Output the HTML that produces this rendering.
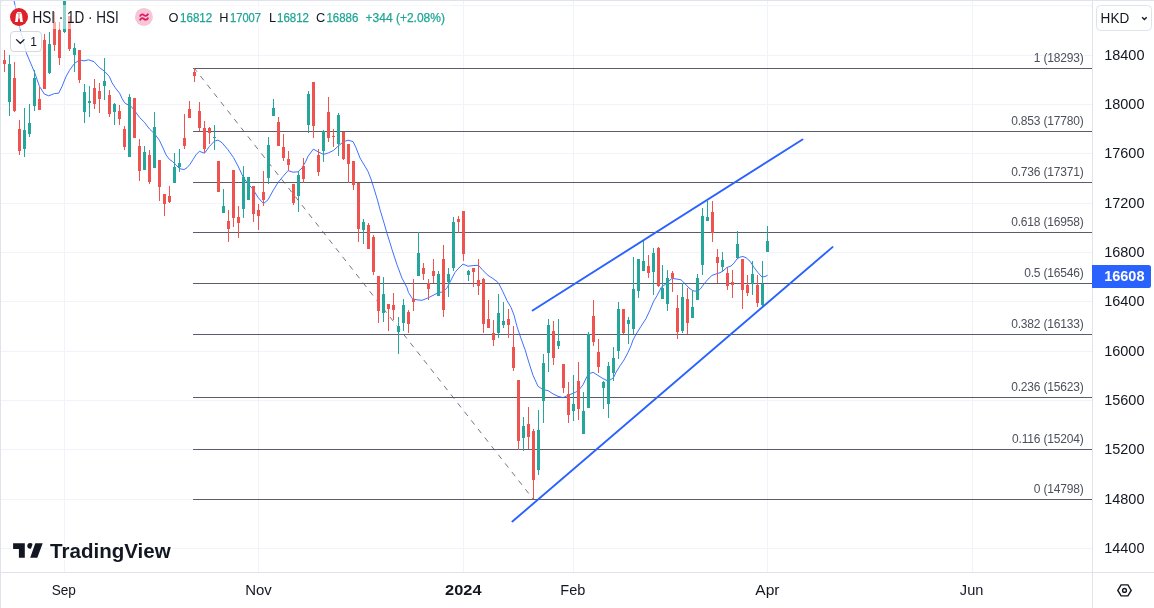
<!DOCTYPE html>
<html lang="en"><head><meta charset="utf-8"><title>HSI chart</title>
<style>html,body{margin:0;padding:0;background:#fff;}body{width:1154px;height:608px;overflow:hidden;font-family:"Liberation Sans",Arial,sans-serif}svg{display:block;will-change:transform}</style>
</head><body>
<svg width="1154" height="608" viewBox="0 0 1154 608" font-family="Liberation Sans, Arial, sans-serif">
<rect width="1154" height="608" fill="#fff"/>
<g fill="#f0f3fa" shape-rendering="crispEdges">
<rect x="1" y="5" width="1091" height="1"/>
<rect x="1" y="55" width="1091" height="1"/>
<rect x="1" y="104" width="1091" height="1"/>
<rect x="1" y="153" width="1091" height="1"/>
<rect x="1" y="203" width="1091" height="1"/>
<rect x="1" y="252" width="1091" height="1"/>
<rect x="1" y="301" width="1091" height="1"/>
<rect x="1" y="351" width="1091" height="1"/>
<rect x="1" y="400" width="1091" height="1"/>
<rect x="1" y="449" width="1091" height="1"/>
<rect x="1" y="499" width="1091" height="1"/>
<rect x="1" y="548" width="1091" height="1"/>
<rect x="64" y="1" width="1" height="571"/>
<rect x="258" y="1" width="1" height="571"/>
<rect x="463" y="1" width="1" height="571"/>
<rect x="573" y="1" width="1" height="571"/>
<rect x="767" y="1" width="1" height="571"/>
<rect x="972" y="1" width="1" height="571"/>
</g>
<g fill="#5a5d69" shape-rendering="crispEdges">
<rect x="193" y="68" width="899" height="1"/>
<rect x="193" y="131" width="899" height="1"/>
<rect x="193" y="182" width="899" height="1"/>
<rect x="193" y="232" width="899" height="1"/>
<rect x="193" y="283" width="899" height="1"/>
<rect x="193" y="334" width="899" height="1"/>
<rect x="193" y="397" width="899" height="1"/>
<rect x="193" y="449" width="899" height="1"/>
<rect x="193" y="499" width="899" height="1"/>
</g>
<line x1="194.5" y1="68.5" x2="533.5" y2="499.5" stroke="#5a5d69" stroke-width="1" stroke-opacity="0.85" stroke-dasharray="5.4 5.55" stroke-dashoffset="1.35"/>
<g fill="#4d505c" font-size="12" letter-spacing="-0.18" text-anchor="end">
<text x="1083.6" y="61.6">1 (18293)</text>
<text x="1083.6" y="124.6">0.853 (17780)</text>
<text x="1083.6" y="175.6">0.736 (17371)</text>
<text x="1083.6" y="225.6">0.618 (16958)</text>
<text x="1083.6" y="276.6">0.5 (16546)</text>
<text x="1083.6" y="327.6">0.382 (16133)</text>
<text x="1083.6" y="390.6">0.236 (15623)</text>
<text x="1083.6" y="442.6">0.116 (15204)</text>
<text x="1083.6" y="492.6">0 (14798)</text>
</g>
<polyline points="13.8,0 15.7,7.8 19.6,27 26.2,52.3 27.2,55 34.5,72.2 39.5,86.5 44.4,94.1 48.7,95.8 54.4,93.6 58.7,93.2 62,86.5 65.8,77 69.5,70.3 74.4,63.6 79.5,59.8 84,60.9 88.7,59.8 94,61.7 99.2,67.4 104.5,71.2 109.3,76.5 112,82.7 115,87.4 119.6,93.2 122,98.4 124.5,102.7 127,104.4 129.6,104.9 132,107.5 134.5,110.5 139.5,117.4 144.4,122.2 149.4,128.9 154.4,133.6 159.4,140.3 163,148 166,154.8 169.5,159.5 172.5,161.5 176,164.8 179.5,168.6 184,169.6 187,167.7 190,164.3 193,159.5 196,154.8 199.4,151.3 204.5,153.2 209.4,146.5 214.3,141.2 218,140.1 222,142.7 228,149.8 233.4,157.4 238,166 243.4,177.5 247,182.6 253,189.3 258,197.4 263.5,203.6 268,199.8 273,190.7 278,182.5 283,176.5 288,170.6 293,172.2 298,171.8 302,168 306,161 308,156.3 313.4,149.1 318.4,152 323.5,154.4 328.4,152.9 333.4,150.5 338.5,145.8 343.4,141.8 348,140.2 353,141.5 356,147.7 360,158 365,166.3 368,171.5 371,179.1 374,188.6 377.5,200.1 380,209.6 384,222.9 387,233.4 390,242.9 392,249.5 397,264.8 402,278.2 407,287.7 408.5,292.6 412.5,298.8 417,299.8 422,300.3 428,297.9 433,295.4 438,292.8 443,291.8 447,287.8 451,280.1 455,272.4 458,268.8 463,264.1 468,266.2 473,265.6 478.5,265.3 483,270.5 488,275.3 493,278.6 497,281.5 499,283.9 503,292 507,300.6 511,307.4 514,315 517,326.5 521,338.5 525,349.5 529,362.9 533,375.3 538,386.3 543,389.6 548,390.6 553,393.9 558,396.3 563,397.7 568,395.3 573,393.4 578,391 583,384.8 587,376.3 590,373.4 593,372.3 597,374.8 603,378.6 607,380.6 610,380.1 613.5,377.7 616,372.4 620,365.8 624,360 628,352.4 631,345.7 633,340 636,334.4 641,326.3 646,318.6 650,310 653.5,301.5 657,295.7 660,290 661,287.5 665,284.6 668,281.8 672,278.4 677,279.1 681,279.8 685,283.7 689,288 693,290.8 697,291.3 700,289.4 704,284 708,279.2 712,275.4 716,274 720,272.7 723,271 727,267.4 731,266 734,263.1 737,258.9 740,257.1 743,256.5 746,257.7 750,261.2 754,267.4 758,272.7 762,277 765,276.5 767.6,275.3" fill="none" stroke="#2962ff" stroke-width="1" stroke-opacity="0.9" stroke-linejoin="round"/>
<g shape-rendering="crispEdges">
<rect x="4" y="50" width="1" height="22" fill="#ef5350"/>
<rect x="3" y="60" width="3" height="4" fill="#ef5350"/>
<rect x="9" y="55" width="1" height="61" fill="#26a69a"/>
<rect x="8" y="64" width="3" height="38" fill="#26a69a"/>
<rect x="14" y="62" width="1" height="50" fill="#ef5350"/>
<rect x="13" y="78" width="3" height="33" fill="#ef5350"/>
<rect x="19" y="120" width="1" height="35" fill="#ef5350"/>
<rect x="18" y="129" width="3" height="22" fill="#ef5350"/>
<rect x="24" y="108" width="1" height="49" fill="#26a69a"/>
<rect x="23" y="130" width="3" height="19" fill="#26a69a"/>
<rect x="29" y="104" width="1" height="33" fill="#26a69a"/>
<rect x="28" y="123" width="3" height="11" fill="#26a69a"/>
<rect x="34" y="70" width="1" height="41" fill="#26a69a"/>
<rect x="33" y="78" width="3" height="28" fill="#26a69a"/>
<rect x="39" y="87" width="1" height="23" fill="#ef5350"/>
<rect x="38" y="99" width="3" height="11" fill="#ef5350"/>
<rect x="44" y="34" width="1" height="55" fill="#ef5350"/>
<rect x="43" y="40" width="3" height="49" fill="#ef5350"/>
<rect x="49" y="32" width="1" height="42" fill="#26a69a"/>
<rect x="48" y="44" width="3" height="29" fill="#26a69a"/>
<rect x="54" y="12" width="1" height="39" fill="#ef5350"/>
<rect x="53" y="22" width="3" height="23" fill="#ef5350"/>
<rect x="59" y="22" width="1" height="43" fill="#ef5350"/>
<rect x="58" y="30" width="3" height="28" fill="#ef5350"/>
<rect x="64" y="-5" width="1" height="38" fill="#26a69a"/>
<rect x="63" y="-5" width="3" height="37" fill="#26a69a"/>
<rect x="69" y="16" width="1" height="35" fill="#ef5350"/>
<rect x="68" y="16" width="3" height="33" fill="#ef5350"/>
<rect x="74" y="43" width="1" height="29" fill="#26a69a"/>
<rect x="73" y="48" width="3" height="7" fill="#26a69a"/>
<rect x="79" y="50" width="1" height="33" fill="#ef5350"/>
<rect x="78" y="50" width="3" height="30" fill="#ef5350"/>
<rect x="84" y="84" width="1" height="39" fill="#26a69a"/>
<rect x="83" y="92" width="3" height="20" fill="#26a69a"/>
<rect x="89" y="86" width="1" height="31" fill="#26a69a"/>
<rect x="88" y="101" width="3" height="2" fill="#26a69a"/>
<rect x="94" y="79" width="1" height="30" fill="#ef5350"/>
<rect x="93" y="88" width="3" height="16" fill="#ef5350"/>
<rect x="99" y="83" width="1" height="30" fill="#ef5350"/>
<rect x="98" y="91" width="3" height="8" fill="#ef5350"/>
<rect x="104" y="58" width="1" height="42" fill="#26a69a"/>
<rect x="103" y="81" width="3" height="5" fill="#26a69a"/>
<rect x="109" y="90" width="1" height="27" fill="#ef5350"/>
<rect x="108" y="95" width="3" height="19" fill="#ef5350"/>
<rect x="114" y="103" width="1" height="22" fill="#26a69a"/>
<rect x="113" y="104" width="3" height="8" fill="#26a69a"/>
<rect x="119" y="105" width="1" height="20" fill="#ef5350"/>
<rect x="118" y="111" width="3" height="8" fill="#ef5350"/>
<rect x="124" y="126" width="1" height="24" fill="#ef5350"/>
<rect x="123" y="129" width="3" height="18" fill="#ef5350"/>
<rect x="129" y="94" width="1" height="63" fill="#26a69a"/>
<rect x="128" y="97" width="3" height="60" fill="#26a69a"/>
<rect x="134" y="98" width="1" height="40" fill="#ef5350"/>
<rect x="133" y="98" width="3" height="40" fill="#ef5350"/>
<rect x="139" y="139" width="1" height="42" fill="#ef5350"/>
<rect x="138" y="146" width="3" height="25" fill="#ef5350"/>
<rect x="144" y="146" width="1" height="24" fill="#26a69a"/>
<rect x="143" y="152" width="3" height="18" fill="#26a69a"/>
<rect x="149" y="150" width="1" height="34" fill="#ef5350"/>
<rect x="148" y="155" width="3" height="27" fill="#ef5350"/>
<rect x="154" y="112" width="1" height="56" fill="#26a69a"/>
<rect x="153" y="127" width="3" height="41" fill="#26a69a"/>
<rect x="159" y="160" width="1" height="41" fill="#ef5350"/>
<rect x="158" y="160" width="3" height="27" fill="#ef5350"/>
<rect x="164" y="194" width="1" height="22" fill="#ef5350"/>
<rect x="163" y="194" width="3" height="10" fill="#ef5350"/>
<rect x="169" y="186" width="1" height="17" fill="#ef5350"/>
<rect x="168" y="196" width="3" height="6" fill="#ef5350"/>
<rect x="174" y="153" width="1" height="30" fill="#26a69a"/>
<rect x="173" y="167" width="3" height="16" fill="#26a69a"/>
<rect x="179" y="149" width="1" height="23" fill="#26a69a"/>
<rect x="178" y="163" width="3" height="4" fill="#26a69a"/>
<rect x="184" y="114" width="1" height="35" fill="#ef5350"/>
<rect x="183" y="138" width="3" height="8" fill="#ef5350"/>
<rect x="189" y="101" width="1" height="17" fill="#ef5350"/>
<rect x="188" y="109" width="3" height="9" fill="#ef5350"/>
<rect x="194" y="68" width="1" height="14" fill="#ef5350"/>
<rect x="193" y="72" width="3" height="4" fill="#ef5350"/>
<rect x="199" y="102" width="1" height="29" fill="#ef5350"/>
<rect x="198" y="111" width="3" height="17" fill="#ef5350"/>
<rect x="204" y="121" width="1" height="32" fill="#ef5350"/>
<rect x="203" y="128" width="3" height="21" fill="#ef5350"/>
<rect x="209" y="127" width="1" height="17" fill="#ef5350"/>
<rect x="208" y="128" width="3" height="5" fill="#ef5350"/>
<rect x="214" y="125" width="1" height="25" fill="#26a69a"/>
<rect x="213" y="137" width="3" height="1" fill="#26a69a"/>
<rect x="218" y="161" width="1" height="31" fill="#ef5350"/>
<rect x="217" y="161" width="3" height="31" fill="#ef5350"/>
<rect x="223" y="189" width="1" height="24" fill="#26a69a"/>
<rect x="222" y="206" width="3" height="7" fill="#26a69a"/>
<rect x="228" y="210" width="1" height="32" fill="#ef5350"/>
<rect x="227" y="221" width="3" height="8" fill="#ef5350"/>
<rect x="233" y="170" width="1" height="57" fill="#ef5350"/>
<rect x="232" y="170" width="3" height="48" fill="#ef5350"/>
<rect x="238" y="206" width="1" height="32" fill="#ef5350"/>
<rect x="237" y="217" width="3" height="6" fill="#ef5350"/>
<rect x="243" y="166" width="1" height="52" fill="#26a69a"/>
<rect x="242" y="177" width="3" height="32" fill="#26a69a"/>
<rect x="248" y="177" width="1" height="23" fill="#26a69a"/>
<rect x="247" y="177" width="3" height="23" fill="#26a69a"/>
<rect x="253" y="186" width="1" height="36" fill="#ef5350"/>
<rect x="252" y="186" width="3" height="28" fill="#ef5350"/>
<rect x="258" y="204" width="1" height="26" fill="#ef5350"/>
<rect x="257" y="210" width="3" height="6" fill="#ef5350"/>
<rect x="263" y="171" width="1" height="35" fill="#ef5350"/>
<rect x="262" y="192" width="3" height="8" fill="#ef5350"/>
<rect x="268" y="137" width="1" height="47" fill="#26a69a"/>
<rect x="267" y="145" width="3" height="33" fill="#26a69a"/>
<rect x="273" y="99" width="1" height="17" fill="#26a69a"/>
<rect x="272" y="108" width="3" height="8" fill="#26a69a"/>
<rect x="278" y="117" width="1" height="29" fill="#ef5350"/>
<rect x="277" y="122" width="3" height="24" fill="#ef5350"/>
<rect x="283" y="134" width="1" height="27" fill="#ef5350"/>
<rect x="282" y="147" width="3" height="11" fill="#ef5350"/>
<rect x="288" y="151" width="1" height="20" fill="#ef5350"/>
<rect x="287" y="159" width="3" height="6" fill="#ef5350"/>
<rect x="293" y="184" width="1" height="21" fill="#ef5350"/>
<rect x="292" y="184" width="3" height="19" fill="#ef5350"/>
<rect x="298" y="171" width="1" height="41" fill="#26a69a"/>
<rect x="297" y="175" width="3" height="21" fill="#26a69a"/>
<rect x="303" y="158" width="1" height="25" fill="#ef5350"/>
<rect x="302" y="166" width="3" height="13" fill="#ef5350"/>
<rect x="308" y="91" width="1" height="42" fill="#26a69a"/>
<rect x="307" y="94" width="3" height="31" fill="#26a69a"/>
<rect x="313" y="82" width="1" height="56" fill="#ef5350"/>
<rect x="312" y="82" width="3" height="44" fill="#ef5350"/>
<rect x="318" y="149" width="1" height="27" fill="#ef5350"/>
<rect x="317" y="155" width="3" height="17" fill="#ef5350"/>
<rect x="323" y="130" width="1" height="32" fill="#26a69a"/>
<rect x="322" y="131" width="3" height="20" fill="#26a69a"/>
<rect x="328" y="97" width="1" height="45" fill="#ef5350"/>
<rect x="327" y="112" width="3" height="26" fill="#ef5350"/>
<rect x="333" y="129" width="1" height="18" fill="#ef5350"/>
<rect x="332" y="136" width="3" height="1" fill="#ef5350"/>
<rect x="338" y="113" width="1" height="43" fill="#26a69a"/>
<rect x="337" y="115" width="3" height="29" fill="#26a69a"/>
<rect x="343" y="132" width="1" height="28" fill="#ef5350"/>
<rect x="342" y="132" width="3" height="27" fill="#ef5350"/>
<rect x="348" y="144" width="1" height="39" fill="#ef5350"/>
<rect x="347" y="144" width="3" height="20" fill="#ef5350"/>
<rect x="353" y="161" width="1" height="29" fill="#ef5350"/>
<rect x="352" y="161" width="3" height="24" fill="#ef5350"/>
<rect x="358" y="183" width="1" height="59" fill="#ef5350"/>
<rect x="357" y="183" width="3" height="46" fill="#ef5350"/>
<rect x="363" y="219" width="1" height="25" fill="#26a69a"/>
<rect x="362" y="222" width="3" height="8" fill="#26a69a"/>
<rect x="368" y="223" width="1" height="26" fill="#ef5350"/>
<rect x="367" y="225" width="3" height="24" fill="#ef5350"/>
<rect x="373" y="235" width="1" height="40" fill="#ef5350"/>
<rect x="372" y="237" width="3" height="35" fill="#ef5350"/>
<rect x="378" y="276" width="1" height="47" fill="#ef5350"/>
<rect x="377" y="276" width="3" height="35" fill="#ef5350"/>
<rect x="383" y="277" width="1" height="45" fill="#26a69a"/>
<rect x="382" y="294" width="3" height="19" fill="#26a69a"/>
<rect x="388" y="304" width="1" height="27" fill="#ef5350"/>
<rect x="387" y="304" width="3" height="5" fill="#ef5350"/>
<rect x="393" y="293" width="1" height="27" fill="#ef5350"/>
<rect x="392" y="305" width="3" height="5" fill="#ef5350"/>
<rect x="398" y="317" width="1" height="37" fill="#26a69a"/>
<rect x="397" y="326" width="3" height="6" fill="#26a69a"/>
<rect x="403" y="299" width="1" height="32" fill="#26a69a"/>
<rect x="402" y="305" width="3" height="18" fill="#26a69a"/>
<rect x="408" y="310" width="1" height="23" fill="#ef5350"/>
<rect x="407" y="312" width="3" height="12" fill="#ef5350"/>
<rect x="413" y="279" width="1" height="32" fill="#ef5350"/>
<rect x="412" y="299" width="3" height="3" fill="#ef5350"/>
<rect x="418" y="232" width="1" height="44" fill="#26a69a"/>
<rect x="417" y="253" width="3" height="23" fill="#26a69a"/>
<rect x="423" y="263" width="1" height="17" fill="#ef5350"/>
<rect x="422" y="268" width="3" height="6" fill="#ef5350"/>
<rect x="428" y="279" width="1" height="21" fill="#ef5350"/>
<rect x="427" y="283" width="3" height="6" fill="#ef5350"/>
<rect x="433" y="259" width="1" height="24" fill="#ef5350"/>
<rect x="432" y="271" width="3" height="5" fill="#ef5350"/>
<rect x="438" y="271" width="1" height="25" fill="#26a69a"/>
<rect x="437" y="274" width="3" height="22" fill="#26a69a"/>
<rect x="443" y="245" width="1" height="72" fill="#ef5350"/>
<rect x="442" y="259" width="3" height="51" fill="#ef5350"/>
<rect x="448" y="268" width="1" height="29" fill="#26a69a"/>
<rect x="447" y="274" width="3" height="8" fill="#26a69a"/>
<rect x="453" y="217" width="1" height="54" fill="#26a69a"/>
<rect x="452" y="222" width="3" height="46" fill="#26a69a"/>
<rect x="458" y="216" width="1" height="17" fill="#ef5350"/>
<rect x="457" y="219" width="3" height="3" fill="#ef5350"/>
<rect x="463" y="211" width="1" height="50" fill="#ef5350"/>
<rect x="462" y="211" width="3" height="43" fill="#ef5350"/>
<rect x="468" y="270" width="1" height="11" fill="#26a69a"/>
<rect x="467" y="271" width="3" height="4" fill="#26a69a"/>
<rect x="473" y="268" width="1" height="19" fill="#ef5350"/>
<rect x="472" y="268" width="3" height="4" fill="#ef5350"/>
<rect x="478" y="259" width="1" height="36" fill="#ef5350"/>
<rect x="477" y="280" width="3" height="6" fill="#ef5350"/>
<rect x="483" y="278" width="1" height="55" fill="#ef5350"/>
<rect x="482" y="279" width="3" height="45" fill="#ef5350"/>
<rect x="488" y="300" width="1" height="28" fill="#ef5350"/>
<rect x="487" y="319" width="3" height="9" fill="#ef5350"/>
<rect x="493" y="320" width="1" height="26" fill="#ef5350"/>
<rect x="492" y="333" width="3" height="7" fill="#ef5350"/>
<rect x="498" y="294" width="1" height="44" fill="#26a69a"/>
<rect x="497" y="313" width="3" height="20" fill="#26a69a"/>
<rect x="503" y="302" width="1" height="26" fill="#26a69a"/>
<rect x="502" y="321" width="3" height="4" fill="#26a69a"/>
<rect x="508" y="309" width="1" height="29" fill="#ef5350"/>
<rect x="507" y="319" width="3" height="6" fill="#ef5350"/>
<rect x="513" y="326" width="1" height="45" fill="#ef5350"/>
<rect x="512" y="347" width="3" height="21" fill="#ef5350"/>
<rect x="518" y="380" width="1" height="70" fill="#ef5350"/>
<rect x="517" y="380" width="3" height="61" fill="#ef5350"/>
<rect x="523" y="417" width="1" height="34" fill="#26a69a"/>
<rect x="522" y="426" width="3" height="12" fill="#26a69a"/>
<rect x="528" y="407" width="1" height="42" fill="#ef5350"/>
<rect x="527" y="424" width="3" height="13" fill="#ef5350"/>
<rect x="533" y="429" width="1" height="70" fill="#ef5350"/>
<rect x="532" y="431" width="3" height="49" fill="#ef5350"/>
<rect x="538" y="410" width="1" height="65" fill="#26a69a"/>
<rect x="537" y="430" width="3" height="40" fill="#26a69a"/>
<rect x="543" y="354" width="1" height="69" fill="#26a69a"/>
<rect x="542" y="363" width="3" height="38" fill="#26a69a"/>
<rect x="548" y="319" width="1" height="53" fill="#26a69a"/>
<rect x="547" y="325" width="3" height="28" fill="#26a69a"/>
<rect x="553" y="321" width="1" height="44" fill="#ef5350"/>
<rect x="552" y="331" width="3" height="27" fill="#ef5350"/>
<rect x="558" y="319" width="1" height="30" fill="#26a69a"/>
<rect x="557" y="341" width="3" height="5" fill="#26a69a"/>
<rect x="563" y="364" width="1" height="29" fill="#ef5350"/>
<rect x="562" y="364" width="3" height="24" fill="#ef5350"/>
<rect x="568" y="382" width="1" height="41" fill="#ef5350"/>
<rect x="567" y="394" width="3" height="21" fill="#ef5350"/>
<rect x="573" y="375" width="1" height="46" fill="#26a69a"/>
<rect x="572" y="404" width="3" height="7" fill="#26a69a"/>
<rect x="578" y="362" width="1" height="58" fill="#ef5350"/>
<rect x="577" y="381" width="3" height="28" fill="#ef5350"/>
<rect x="583" y="392" width="1" height="42" fill="#26a69a"/>
<rect x="582" y="411" width="3" height="23" fill="#26a69a"/>
<rect x="588" y="332" width="1" height="76" fill="#26a69a"/>
<rect x="587" y="334" width="3" height="74" fill="#26a69a"/>
<rect x="593" y="300" width="1" height="46" fill="#ef5350"/>
<rect x="592" y="316" width="3" height="26" fill="#ef5350"/>
<rect x="598" y="339" width="1" height="34" fill="#ef5350"/>
<rect x="597" y="352" width="3" height="15" fill="#ef5350"/>
<rect x="603" y="381" width="1" height="28" fill="#26a69a"/>
<rect x="602" y="382" width="3" height="6" fill="#26a69a"/>
<rect x="608" y="362" width="1" height="56" fill="#26a69a"/>
<rect x="607" y="366" width="3" height="38" fill="#26a69a"/>
<rect x="613" y="347" width="1" height="34" fill="#26a69a"/>
<rect x="612" y="358" width="3" height="15" fill="#26a69a"/>
<rect x="618" y="302" width="1" height="57" fill="#26a69a"/>
<rect x="617" y="309" width="3" height="42" fill="#26a69a"/>
<rect x="623" y="309" width="1" height="25" fill="#ef5350"/>
<rect x="622" y="309" width="3" height="24" fill="#ef5350"/>
<rect x="628" y="317" width="1" height="27" fill="#26a69a"/>
<rect x="627" y="320" width="3" height="4" fill="#26a69a"/>
<rect x="633" y="257" width="1" height="77" fill="#26a69a"/>
<rect x="632" y="289" width="3" height="40" fill="#26a69a"/>
<rect x="638" y="259" width="1" height="39" fill="#26a69a"/>
<rect x="637" y="259" width="3" height="32" fill="#26a69a"/>
<rect x="643" y="240" width="1" height="31" fill="#26a69a"/>
<rect x="642" y="261" width="3" height="10" fill="#26a69a"/>
<rect x="648" y="255" width="1" height="23" fill="#ef5350"/>
<rect x="647" y="266" width="3" height="7" fill="#ef5350"/>
<rect x="653" y="248" width="1" height="47" fill="#26a69a"/>
<rect x="652" y="253" width="3" height="19" fill="#26a69a"/>
<rect x="658" y="247" width="1" height="40" fill="#ef5350"/>
<rect x="657" y="248" width="3" height="38" fill="#ef5350"/>
<rect x="662" y="265" width="1" height="34" fill="#26a69a"/>
<rect x="661" y="288" width="3" height="11" fill="#26a69a"/>
<rect x="667" y="270" width="1" height="41" fill="#26a69a"/>
<rect x="666" y="278" width="3" height="26" fill="#26a69a"/>
<rect x="672" y="271" width="1" height="21" fill="#ef5350"/>
<rect x="671" y="273" width="3" height="5" fill="#ef5350"/>
<rect x="677" y="295" width="1" height="44" fill="#ef5350"/>
<rect x="676" y="308" width="3" height="24" fill="#ef5350"/>
<rect x="682" y="283" width="1" height="50" fill="#26a69a"/>
<rect x="681" y="297" width="3" height="34" fill="#26a69a"/>
<rect x="687" y="288" width="1" height="46" fill="#ef5350"/>
<rect x="686" y="299" width="3" height="24" fill="#ef5350"/>
<rect x="692" y="290" width="1" height="28" fill="#26a69a"/>
<rect x="691" y="307" width="3" height="11" fill="#26a69a"/>
<rect x="697" y="274" width="1" height="26" fill="#26a69a"/>
<rect x="696" y="278" width="3" height="22" fill="#26a69a"/>
<rect x="702" y="208" width="1" height="67" fill="#26a69a"/>
<rect x="701" y="216" width="3" height="49" fill="#26a69a"/>
<rect x="707" y="201" width="1" height="20" fill="#26a69a"/>
<rect x="706" y="217" width="3" height="4" fill="#26a69a"/>
<rect x="712" y="201" width="1" height="41" fill="#ef5350"/>
<rect x="711" y="212" width="3" height="21" fill="#ef5350"/>
<rect x="717" y="249" width="1" height="34" fill="#ef5350"/>
<rect x="716" y="257" width="3" height="6" fill="#ef5350"/>
<rect x="722" y="252" width="1" height="20" fill="#26a69a"/>
<rect x="721" y="260" width="3" height="7" fill="#26a69a"/>
<rect x="727" y="267" width="1" height="23" fill="#ef5350"/>
<rect x="726" y="273" width="3" height="13" fill="#ef5350"/>
<rect x="732" y="270" width="1" height="28" fill="#ef5350"/>
<rect x="731" y="282" width="3" height="3" fill="#ef5350"/>
<rect x="737" y="231" width="1" height="27" fill="#26a69a"/>
<rect x="736" y="244" width="3" height="14" fill="#26a69a"/>
<rect x="742" y="259" width="1" height="50" fill="#ef5350"/>
<rect x="741" y="259" width="3" height="31" fill="#ef5350"/>
<rect x="747" y="275" width="1" height="21" fill="#ef5350"/>
<rect x="746" y="285" width="3" height="8" fill="#ef5350"/>
<rect x="752" y="261" width="1" height="34" fill="#26a69a"/>
<rect x="751" y="274" width="3" height="10" fill="#26a69a"/>
<rect x="757" y="275" width="1" height="32" fill="#ef5350"/>
<rect x="756" y="285" width="3" height="18" fill="#ef5350"/>
<rect x="762" y="261" width="1" height="47" fill="#26a69a"/>
<rect x="761" y="284" width="3" height="21" fill="#26a69a"/>
<rect x="767" y="226" width="1" height="26" fill="#26a69a"/>
<rect x="766" y="241" width="3" height="11" fill="#26a69a"/>
</g>
<line x1="532.6" y1="310.5" x2="802.5" y2="139.5" stroke="#2962ff" stroke-width="1.9" stroke-linecap="round"/>
<line x1="512.4" y1="521.5" x2="832.5" y2="247.1" stroke="#2962ff" stroke-width="1.9" stroke-linecap="round"/>
<rect x="8" y="5" width="442" height="24" fill="#fff" fill-opacity="0.5"/>
<circle cx="19" cy="17" r="9" fill="#de2128"/>
<g fill="#fff">
<rect x="16.9" y="12.1" width="4.3" height="1.2"/>
<path d="M16.05 13.5H18.45V18.1L17.8 21.9H14.85L15.35 20.6Z"/>
<path d="M21.95 13.5H19.55V18.1L20.2 21.9H23.15L22.65 20.6Z"/>
<rect x="18.5" y="13.3" width="1.1" height="5" fill-opacity="0.7"/>
</g>
<text x="32.6" y="22.9" font-size="15.6" fill="#131722" textLength="86.2" lengthAdjust="spacingAndGlyphs">HSI · 1D · HSI</text>
<circle cx="143.9" cy="16.9" r="9" fill="#f7c5d8"/>
<g fill="none" stroke="#e0185f" stroke-width="1.8" stroke-linecap="round">
<path d="M140.2 15.9C141.6 13.6 143 14.2 144 15.1S146.6 16.4 147.9 14.3"/>
<path d="M140.2 19.8C141.6 17.5 143 18.1 144 19S146.6 20.3 147.9 18.2"/>
</g>
<text x="168.6" y="22.2" font-size="12.8" fill="#131722">O</text><text x="180.0" y="22.2" font-size="12.8" fill="#1fa594" stroke="#1fa594" stroke-width="0.25" textLength="32.19999999999999" lengthAdjust="spacingAndGlyphs">16812</text>
<text x="219.3" y="22.2" font-size="12.8" fill="#131722">H</text><text x="230.0" y="22.2" font-size="12.8" fill="#1fa594" stroke="#1fa594" stroke-width="0.25" textLength="31.0" lengthAdjust="spacingAndGlyphs">17007</text>
<text x="269.0" y="22.2" font-size="12.8" fill="#131722">L</text><text x="277.0" y="22.2" font-size="12.8" fill="#1fa594" stroke="#1fa594" stroke-width="0.25" textLength="32.0" lengthAdjust="spacingAndGlyphs">16812</text>
<text x="316.0" y="22.2" font-size="12.8" fill="#131722">C</text><text x="326.5" y="22.2" font-size="12.8" fill="#1fa594" stroke="#1fa594" stroke-width="0.25" textLength="31.80000000000001" lengthAdjust="spacingAndGlyphs">16886</text>
<text x="365.5" y="22.2" font-size="12.8" fill="#1fa594" stroke="#1fa594" stroke-width="0.25" textLength="79.5" lengthAdjust="spacingAndGlyphs">+344 (+2.08%)</text>
<rect x="10.5" y="31.5" width="31" height="20" rx="3.5" fill="#fff" fill-opacity="0.8" stroke="#d5d8e0"/>
<path d="M16.2 39.4L20.3 43.3L24.4 39.4" fill="none" stroke="#131722" stroke-width="1.3"/>
<text x="30.2" y="45.7" font-size="12" fill="#131722">1</text>
<rect x="1093" y="1" width="61" height="571" fill="#fff"/>
<rect x="0" y="573" width="1154" height="35" fill="#fff"/>
<g fill="#e0e3eb" shape-rendering="crispEdges">
<rect x="0" y="0" width="1154" height="1"/>
<rect x="0" y="0" width="1" height="608"/>
<rect x="1092" y="1" width="1" height="607"/>
<rect x="0" y="572" width="1154" height="1"/>
<path d="M1 1H3.2A2.2 2.2 0 0 0 1 3.2Z" shape-rendering="auto"/>
</g>
<g fill="#131722" font-size="14.5">
<text x="1104.2" y="59.6" textLength="40.3" lengthAdjust="spacingAndGlyphs">18400</text>
<text x="1104.2" y="108.9" textLength="40.3" lengthAdjust="spacingAndGlyphs">18000</text>
<text x="1104.2" y="158.3" textLength="40.3" lengthAdjust="spacingAndGlyphs">17600</text>
<text x="1104.2" y="207.6" textLength="40.3" lengthAdjust="spacingAndGlyphs">17200</text>
<text x="1104.2" y="256.9" textLength="40.3" lengthAdjust="spacingAndGlyphs">16800</text>
<text x="1104.2" y="306.3" textLength="40.3" lengthAdjust="spacingAndGlyphs">16400</text>
<text x="1104.2" y="355.6" textLength="40.3" lengthAdjust="spacingAndGlyphs">16000</text>
<text x="1104.2" y="404.9" textLength="40.3" lengthAdjust="spacingAndGlyphs">15600</text>
<text x="1104.2" y="454.2" textLength="40.3" lengthAdjust="spacingAndGlyphs">15200</text>
<text x="1104.2" y="503.6" textLength="40.3" lengthAdjust="spacingAndGlyphs">14800</text>
<text x="1104.2" y="552.9" textLength="40.3" lengthAdjust="spacingAndGlyphs">14400</text>
</g>
<path d="M1092 265H1148.5a2.5 2.5 0 0 1 2.5 2.5V285.5a2.5 2.5 0 0 1-2.5 2.5H1092Z" fill="#2962ff"/>
<text x="1104.2" y="281.0" font-size="14.5" font-weight="bold" fill="#fff" textLength="40.3" lengthAdjust="spacingAndGlyphs">16608</text>
<rect x="1096.5" y="5.5" width="55" height="25" rx="4" fill="#fff" stroke="#e0e3eb"/>
<text x="1100.6" y="23.1" font-size="15" fill="#131722" textLength="28.6" lengthAdjust="spacingAndGlyphs">HKD</text>
<path d="M1142.1 17.3L1144.4 19.5L1146.7 17.3" fill="none" stroke="#131722" stroke-width="1.4"/>
<g fill="#131722" font-size="15" text-anchor="middle">
<text x="63.8" y="594.8" textLength="24.3" lengthAdjust="spacingAndGlyphs">Sep</text>
<text x="258.5" y="594.8" textLength="26.6" lengthAdjust="spacingAndGlyphs">Nov</text>
<text x="572.8" y="594.8" textLength="25" lengthAdjust="spacingAndGlyphs">Feb</text>
<text x="767.4" y="594.8" textLength="24.2" lengthAdjust="spacingAndGlyphs">Apr</text>
<text x="971.6" y="594.8" textLength="23.5" lengthAdjust="spacingAndGlyphs">Jun</text>
<text x="463.3" y="594.8" font-weight="bold" font-size="15.2" textLength="36.4" lengthAdjust="spacingAndGlyphs">2024</text>
</g>
<g fill="none" stroke="#131722" stroke-width="1.4"><path d="M1117.8 590.4L1121.1 584.9H1127.9L1131.2 590.4L1127.9 595.9H1121.1Z"/><circle cx="1124.5" cy="590.4" r="1.9"/></g>
<g fill="#131722" stroke="#fff" stroke-width="4.5" paint-order="stroke" stroke-linejoin="round">
<path d="M13.1 543.2H24.8V557.7H18.9V548.9H13.1Z"/>
<circle cx="30.2" cy="545.8" r="2.9"/>
<path d="M35.3 543.2H42.7L37.3 557.7H30.2Z"/>
<text x="50.1" y="557.7" font-size="21" font-weight="bold" textLength="120.6" lengthAdjust="spacingAndGlyphs">TradingView</text>
</g>
</svg>
</body></html>
